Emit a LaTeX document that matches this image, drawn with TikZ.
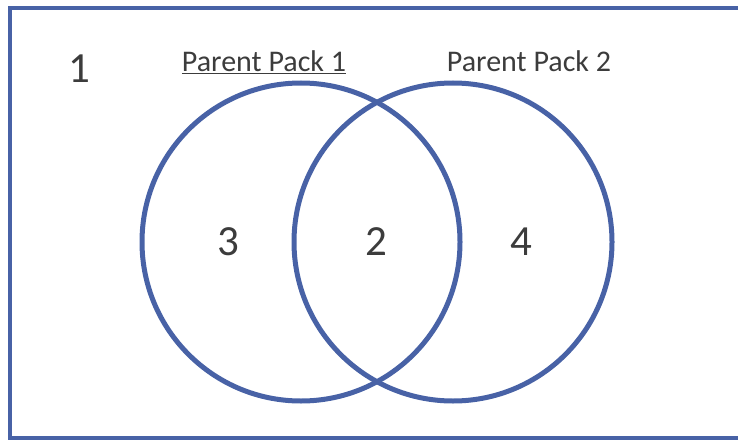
\documentclass[tikz,border=0pt]{standalone}
\usepackage{fontspec}
\setmainfont{Carlito}
\definecolor{packblue}{RGB}{72,98,166}
\definecolor{ink}{RGB}{60,60,60}
\begin{document}
\begin{tikzpicture}[x=1pt,y=-1pt,
  ring/.style = {draw=packblue,line width=5pt,circle,inner sep=0pt,minimum size=318pt},
  num/.style = {text=ink,font=\fontsize{43}{43}\selectfont,anchor=base},
  head/.style = {text=ink,font=\fontsize{30}{30}\selectfont,anchor=base}]
\useasboundingbox (0,0) rectangle (738,441);
\draw[packblue,line width=4pt] (10,8) rectangle (760,438);
\node[ring] (pack1) at (301,242) {};
\node[ring] (pack2) at (453,242) {};
\node[num] (outside) at (79,83) {1};
\node[num] (only1) at (228,255) {3};
\node[num] (both) at (376,255) {2};
\node[num] (only2) at (521,255) {4};
\node[head] (name1) at (264,72) {\underline{Parent Pack 1}};
\node[head] (name2) at (529,72) {Parent Pack 2};
\end{tikzpicture}
\end{document}
